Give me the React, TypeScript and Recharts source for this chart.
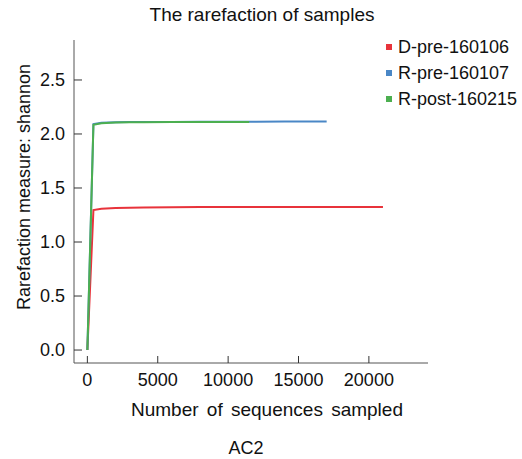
import { LineChart, Line, XAxis, YAxis, Legend } from "recharts"

const FONT = "'Liberation Sans', Arial, sans-serif"

// D-pre-160106
const dPreX = [0, 430, 1000, 2000, 3000, 4000, 6000, 8000, 10000, 12000, 14000, 16000, 18000, 20000, 21000]
const dPreY = [0, 1.296, 1.308, 1.315, 1.318, 1.319, 1.321, 1.323, 1.323, 1.324, 1.324, 1.325, 1.325, 1.325, 1.325]

// R-pre-160107
const rPreX = [0, 430, 1000, 2000, 3000, 4000, 6000, 8000, 10000, 12000, 14000, 16000, 17000]
const rPreY = [0, 2.092, 2.103, 2.108, 2.11, 2.111, 2.112, 2.113, 2.114, 2.114, 2.115, 2.115, 2.115]

// R-post-160215
const rPostX = [0, 430, 1000, 2000, 3000, 4000, 6000, 8000, 10000, 11500]
const rPostY = [0, 2.085, 2.1, 2.106, 2.108, 2.109, 2.11, 2.111, 2.111, 2.112]

const xTicks = [0, 5000, 10000, 15000, 20000]
const yTicks = [0, 0.5, 1.0, 1.5, 2.0, 2.5]

const series = [
  { name: "D-pre-160106", xs: dPreX, ys: dPreY, color: "#e8333b" },
  { name: "R-pre-160107", xs: rPreX, ys: rPreY, color: "#4a87c6" },
  { name: "R-post-160215", xs: rPostX, ys: rPostY, color: "#4caf50" }
]

function toPoints(xs:number[], ys:number[]){
  return xs.map((x, i) => ({ n: x, v: ys[i] }))
}

function YTick(props:any){
  const { x, y, payload } = props
  return(
    <g>
      <line x1={x + 9} x2={x + 17} y1={y} y2={y} stroke="#333" />
      <text x={x} y={y} dy="0.35em" textAnchor="end" fontSize={18} fontFamily={FONT} fill="#111">
        {Number(payload.value).toFixed(1)}
      </text>
    </g>
  )
}

function XTick(props:any){
  const { x, y, payload } = props
  return(
    <g>
      <line x1={x} x2={x} y1={y - 10} y2={y - 17} stroke="#333" />
      <text x={x} y={y} dy="0.71em" textAnchor="middle" fontSize={18} fontFamily={FONT} fill="#111">
        {payload.value}
      </text>
    </g>
  )
}

function LegendBox(){
  return(
    <div style={{ fontFamily: FONT, fontSize: 18, color: "#111" }}>
      {series.map(s => (
        <div key={s.name} style={{ display: "flex", alignItems: "center", height: 26 }}>
          <span style={{ width: 6, height: 6, background: s.color, marginRight: 6, display: "inline-block" }} />
          <span>{s.name}</span>
        </div>
      ))}
    </div>
  )
}

export default function App(){
  return(
    <div style={{ position: "relative", width: 522, height: 459, fontFamily: FONT }}>
      <style>{"body{margin:0}"}</style>

      <div style={{ position: "absolute", left: 262, top: 5, transform: "translateX(-50%)", fontSize: 19, lineHeight: "19px", whiteSpace: "nowrap", color: "#111" }}>
        The rarefaction of samples
      </div>

      <LineChart width={522} height={459} margin={{ top: 40, right: 94, bottom: 66, left: 34 }}>

        <XAxis
          type="number"
          dataKey="n"
          domain={[-950, 24200]}
          ticks={xTicks}
          allowDataOverflow
          tickSize={0}
          tickMargin={10}
          stroke="#555"
          tick={<XTick />}
          label={{
            content: (p:any) => (
              <text x={p.viewBox.x + p.viewBox.width / 2 + 16} y={p.viewBox.y + 53} textAnchor="middle"
                fontSize={19} fontFamily={FONT} fill="#111" wordSpacing={3}>
                Number of sequences sampled
              </text>
            )
          }}
        />

        <YAxis
          type="number"
          domain={[-0.12, 2.87]}
          ticks={yTicks}
          allowDataOverflow
          width={40}
          tickSize={0}
          tickMargin={9}
          stroke="#555"
          tick={<YTick />}
          label={{
            content: () => (
              <text x={24} y={187} textAnchor="middle" dominantBaseline="central" transform="rotate(-90 24 187)"
                fontSize={18} fontFamily={FONT} fill="#111">
                Rarefaction measure: shannon
              </text>
            )
          }}
        />

        <Legend
          layout="horizontal"
          verticalAlign="middle"
          align="center"
          content={<LegendBox />}
          wrapperStyle={{ left: 386, top: 34, width: 136, height: 80 }}
        />

        {series.map(s => (
          <Line
            key={s.name}
            name={s.name}
            data={toPoints(s.xs, s.ys)}
            dataKey="v"
            stroke={s.color}
            strokeWidth={2}
            dot={false}
            isAnimationActive={false}
          />
        ))}

      </LineChart>

      <div style={{ position: "absolute", left: 246, top: 439, transform: "translateX(-50%)", fontSize: 18, lineHeight: "19px", whiteSpace: "nowrap", color: "#111" }}>
        AC2
      </div>
    </div>
  )
}
